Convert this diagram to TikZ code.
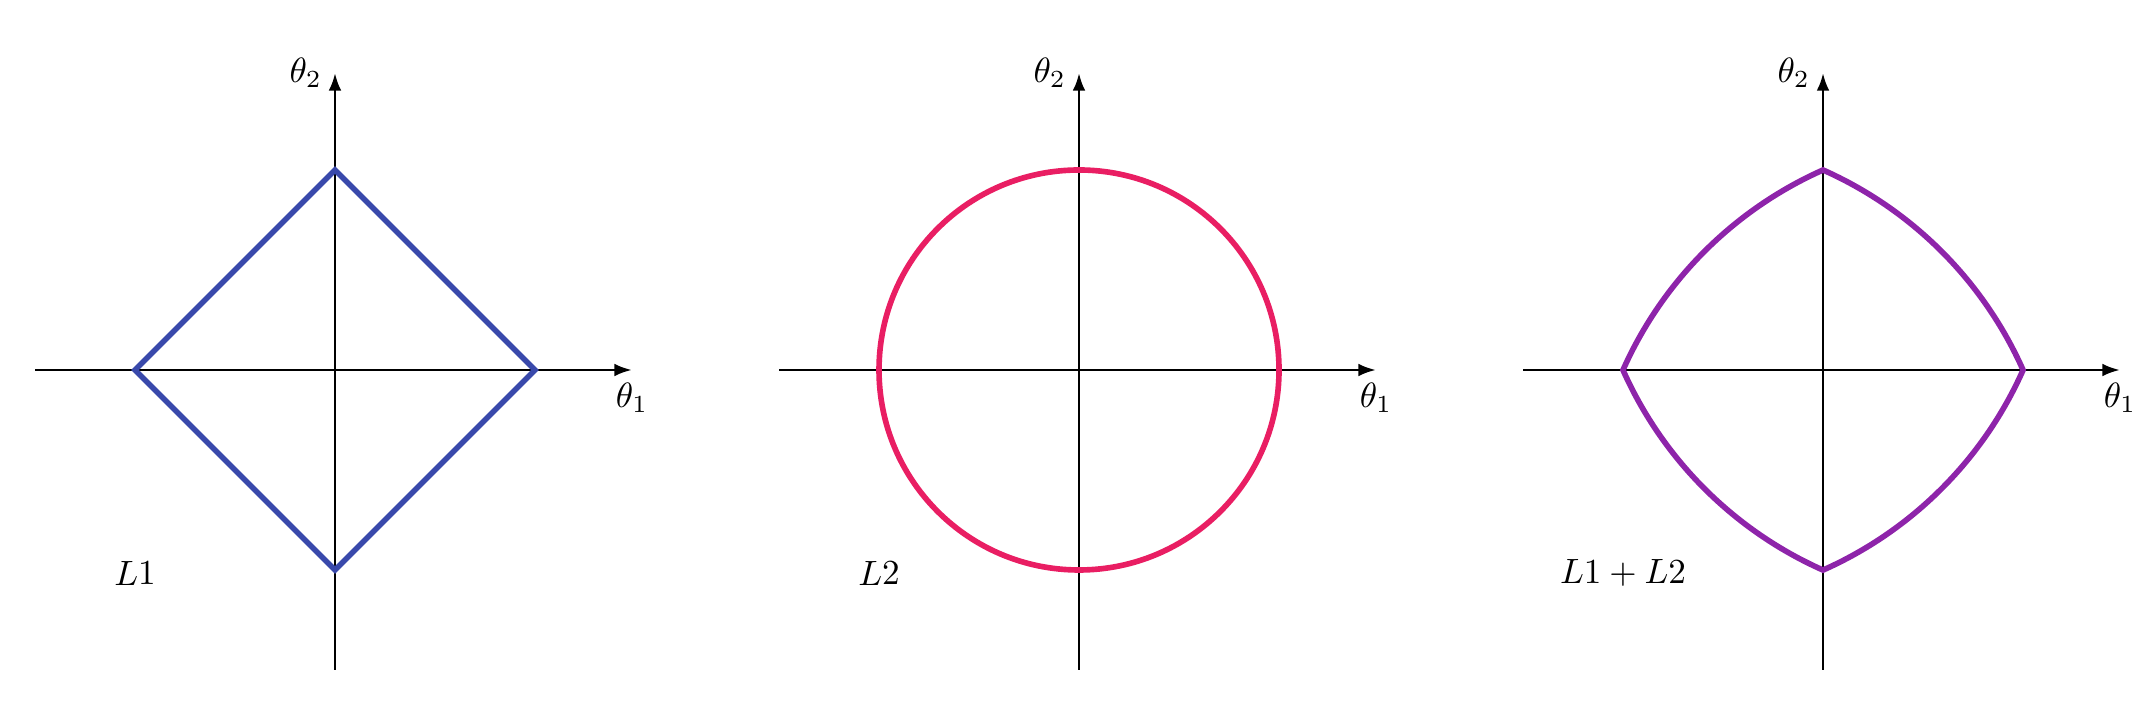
\documentclass[tikz,border=0pt]{standalone}
\usetikzlibrary{arrows.meta}
\definecolor{lonecol}{HTML}{3949AB}
\definecolor{ltwocol}{HTML}{E91E63}
\definecolor{lmixcol}{HTML}{8E24AA}
\tikzset{
  axis/.style={thick,-{Latex[length=5pt,width=3.6pt]}},
  normline/.style={line width=1.6pt}
}
\begin{document}
\begin{tikzpicture}
\useasboundingbox (0,0) rectangle (21.46,7.05);
% axes of the three panels
\foreach \x/\name in {3.35/one,10.79/two,18.23/mix} {
  \begin{scope}[shift={(\x,3.35)}]
    \draw[axis] (-3,0) -- (2.97,0) node[below] (tone\name) {$\theta_1$};
    \draw[axis] (0,-3) -- (0,2.97) node[left] (ttwo\name) {$\theta_2$};
  \end{scope}
}
% L1: diamond
\begin{scope}[shift={(3.35,3.35)}]
  \draw[lonecol, normline, line join=miter] (2,0) -- (0,2) -- (-2,0) -- (0,-2) -- cycle;
  \node (labone) at (-2,-2.03) {$L1$};
\end{scope}
% L2: circle
\begin{scope}[shift={(10.79,3.35)}]
  \draw[ltwocol, normline] (0,0) circle (2);
  \node (labtwo) at (-2,-2.03) {$L2$};
\end{scope}
% L1 + L2: four arcs
\begin{scope}[shift={(18.23,3.35)}]
  \draw[lmixcol, normline, line join=miter] (0,2)
    arc[start angle=66.04, end angle=23.96, radius=3.94]
    arc[start angle=-23.96, end angle=-66.04, radius=3.94]
    arc[start angle=-113.96, end angle=-156.04, radius=3.94]
    arc[start angle=156.04, end angle=113.96, radius=3.94] -- cycle;
  \node (labmix) at (-2,-2.03) {$L1+L2$};
\end{scope}
\end{tikzpicture}
\end{document}
